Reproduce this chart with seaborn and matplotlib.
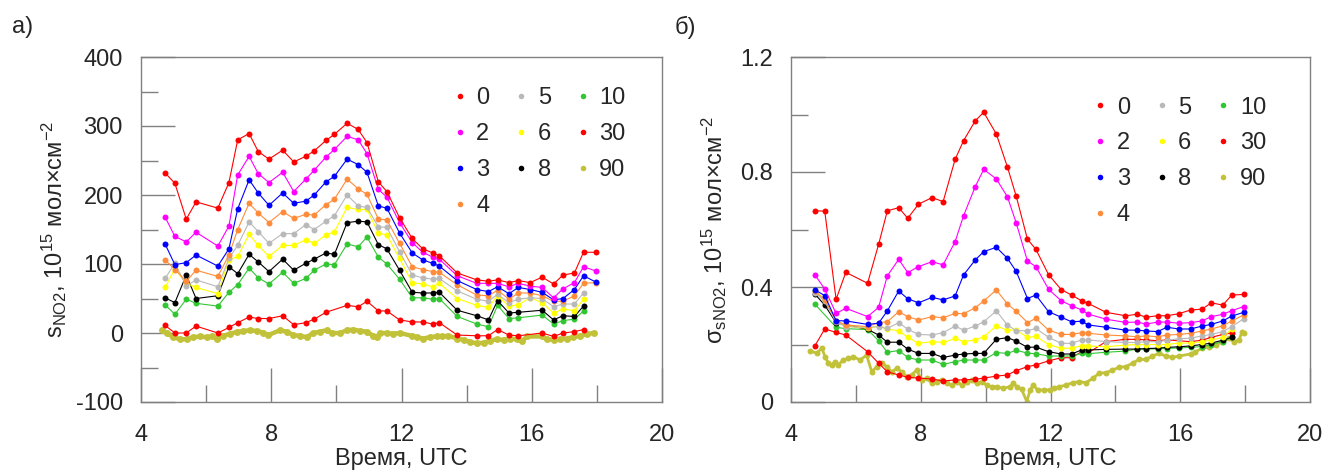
import numpy as np
import pandas as pd
import matplotlib
matplotlib.use("Agg")
import matplotlib.pyplot as plt
from matplotlib.lines import Line2D
from matplotlib.ticker import MultipleLocator
import seaborn as sns

sns.set_style("white")
plt.rcParams['font.family'] = ['Liberation Sans', 'DejaVu Sans']
plt.rcParams['mathtext.default'] = 'regular'
plt.rcParams['axes.unicode_minus'] = False

nan = np.nan

# ---------------- data ----------------
times = [4.74, 5.04, 5.39, 5.69, 6.36, 6.70, 6.97, 7.32, 7.60, 7.93, 8.35, 8.69, 9.06, 9.32,
         9.68, 9.94, 10.33, 10.67, 10.94, 11.29, 11.55, 11.94, 12.33, 12.65, 12.96, 13.16,
         13.71, 14.31, 14.67, 14.95, 15.30, 15.59, 15.95, 16.32, 16.67, 16.96, 17.31, 17.59, 17.96]

series_labels = ["0", "2", "3", "4", "5", "6", "8", "10", "30", "90"]
series_colors = ["#FF0000", "#FF00FF", "#0000FF", "#FF8C3A", "#B9B9B9", "#FFFF00",
                 "#000000", "#33C633", "#FF0000", "#C2C23A"]

# panel a) s_NO2, 1e15 mol/cm2
a_0 = [232, 217, 165, 190, 181, 218, 280, 289, 263, 252, 265, 248, 256, 264, 279, 288, 304, 295,
       276, 219, 205, 167, 137, 122, 116, 112, 87, 77, 75, 77, 73, 76, 73, 81, 71, 84, 87, 117, 117]
a_2 = [168, 140, 132, 146, 126, 155, 229, 256, 231, 218, 233, 205, 223, 236, 255, 266, 285, 280,
       260, 208, 197, 160, 131, 117, 110, 107, 83, 72, 72, 72, 67, 72, 68, 66, 51, 64, 73, 96, 90]
a_3 = [129, 99, 102, 113, 97, 122, 180, 222, 203, 185, 203, 188, 191, 200, 219, 227, 252, 244,
       233, 184, 181, 145, 116, 106, 101, 97, 76, 63, 60, 67, 57, 66, 63, 59, 48, 50, 63, 83, 74]
a_4 = [106, 92, 75, 91, 82, 113, 150, 188, 174, 160, 176, 166, 172, 171, 186, 194, 223, 209,
       201, 165, 164, 130, 96, 92, 89, 88, 70, 55, 54, 62, 49, 58, 58, 54, 46, 46, 54, 72, 73]
a_5 = [79, 101, 68, 77, 67, 108, 127, 161, 147, 130, 144, 144, 157, 150, 162, 170, 200, 184,
       182, 154, 153, 118, 84, 80, 78, 79, 61, 49, 46, 56, 44, 49, 51, 50, 38, 42, 42, 58, nan]
a_6 = [66, 93, 72, 66, 57, 106, 111, 143, 127, 111, 127, 127, 135, 130, 142, 147, 182, 179,
       179, 145, 142, 108, 73, 71, 67, 72, 50, 40, 37, 54, 39, 41, 51, 44, 29, 35, 32, 49, nan]
a_8 = [51, 44, 84, 50, 54, 96, 86, 114, 103, 89, 107, 91, 101, 107, 116, 114, 160, 162,
       161, 128, 122, 91, 59, 58, 58, 59, 33, 25, 19, 47, 29, 30, nan, 33, 19, 25, 24, 39, nan]
a_10 = [41, 27, 49, 43, 39, 59, 70, 94, 80, 71, 88, 72, 79, 91, 100, 99, 129, 125,
        139, 110, 100, 78, 51, 51, 49, 50, 24, 13, 9, 40, 21, 22, nan, 26, 13, 18, 20, 32, nan]
a_30 = [11, 0, 0, 10, 0, 8, 15, 23, 21, 21, 25, 12, 15, 20, 30, nan, 40, 38,
        46, 32, 32, 19, 16, 16, 13, 15, -3, -4, -4, 5, -3, -4, nan, 0, -5, 0, 2, 5, nan]

a_90_t = [4.64, 4.79, 4.99, 5.20, 5.40, 5.61, 5.81, 6.02, 6.17, 6.32, 6.53, 6.73, 6.94, 7.14,
          7.35, 7.55, 7.76, 7.91, 8.27, 8.47, 8.68, 8.88, 9.09, 9.29, 9.50, 9.70, 9.86, 10.11,
          10.32, 10.52, 10.73, 10.93, 11.13, 11.24, 11.34, 11.55, 11.75, 11.95, 12.31, 12.47,
          12.67, 12.87, 13.08, 13.25, 13.44, 13.70, 13.91, 14.11, 14.32, 14.52, 14.73, 14.93,
          15.14, 15.34, 15.54, 15.70, 15.85, 16.31, 16.46, 16.67, 16.87, 17.08, 17.28, 17.49,
          17.69, 17.90]
a_90 = [4, 0, -6, -9, -9, -6, -5, -6, -5, -8, -4, -1, 1.5, 3, 4, 3, 0.5, -3, 4, 2, -3, -4, -6,
        0, 2, 4, 0, 0, 4, 5, 3, 2, -4, -6, 0, 0, -1, 0, -4, -6, -8, -6, -5, -5, -4, -8, -10,
        -13, -15, -14, -11, -9, -10, -8, -9, -12, -5, -5, -9, -10, -9, -8, -6, -4, -1.5, 0]

# panel б) sigma_sNO2, 1e15 mol/cm2
b_0 = [0.665, 0.664, 0.357, 0.451, 0.413, 0.548, 0.665, 0.676, 0.639, 0.688, 0.711, 0.697, 0.844,
       0.909, 0.978, 1.008, 0.932, 0.818, 0.717, 0.566, 0.531, 0.443, 0.391, 0.372, 0.352, 0.343,
       0.312, 0.300, 0.305, 0.295, 0.300, 0.300, 0.307, 0.320, 0.323, 0.345, 0.337, 0.372, 0.374]
b_2 = [0.442, 0.393, 0.308, 0.326, 0.297, 0.329, 0.439, 0.496, 0.450, 0.471, 0.488, 0.477, 0.558,
       0.648, 0.749, 0.809, 0.776, 0.714, 0.624, 0.490, 0.471, 0.392, 0.352, 0.335, 0.320, 0.306,
       0.288, 0.277, 0.278, 0.271, 0.278, 0.278, 0.274, 0.276, 0.282, 0.297, 0.305, 0.318, 0.332]
b_3 = [0.390, 0.370, 0.283, 0.282, 0.270, 0.274, 0.317, 0.386, 0.359, 0.345, 0.364, 0.355, 0.369,
       0.442, 0.494, 0.523, 0.538, 0.500, 0.455, 0.360, 0.372, 0.314, 0.295, 0.279, 0.281, 0.268,
       0.260, 0.250, 0.250, 0.247, 0.245, 0.260, 0.254, 0.254, 0.264, 0.270, 0.282, 0.299, 0.312]
b_4 = [0.385, 0.355, 0.283, 0.268, 0.262, 0.276, 0.279, 0.314, 0.297, 0.285, 0.297, 0.293, 0.308,
       0.307, 0.328, 0.351, 0.390, 0.341, 0.316, 0.276, 0.291, 0.250, 0.235, 0.235, 0.241, 0.239,
       0.233, 0.230, 0.227, 0.230, 0.227, 0.233, 0.235, 0.239, 0.247, 0.254, 0.265, 0.282, 0.303]
b_5 = [0.380, 0.350, 0.278, 0.262, 0.260, 0.262, 0.256, 0.276, 0.253, 0.235, 0.233, 0.241, 0.264,
       0.250, 0.264, 0.279, 0.317, 0.268, 0.248, 0.248, 0.256, 0.225, 0.204, 0.204, 0.216, 0.216,
       0.210, 0.207, 0.207, 0.210, 0.210, 0.215, 0.220, 0.222, 0.230, 0.235, 0.245, 0.262, 0.290]
b_6 = [0.386, 0.358, 0.283, 0.264, 0.256, 0.264, 0.253, 0.248, 0.225, 0.204, 0.210, 0.207, 0.221,
       0.210, 0.216, 0.227, 0.264, 0.250, 0.250, 0.225, 0.228, 0.200, 0.187, 0.187, 0.196, 0.195,
       0.192, 0.198, 0.200, 0.200, 0.200, 0.200, 0.205, 0.205, 0.210, 0.215, 0.225, 0.254, nan]
b_8 = [0.375, 0.337, 0.276, 0.268, 0.253, 0.233, 0.208, 0.208, 0.184, 0.169, 0.169, 0.155, 0.163,
       0.167, 0.169, 0.169, 0.218, 0.224, 0.212, 0.190, 0.191, 0.175, 0.167, 0.167, 0.181, 0.181,
       0.183, 0.184, 0.184, 0.186, 0.187, 0.190, 0.192, 0.195, 0.200, 0.205, 0.215, 0.225, nan]
b_10 = [0.340, nan, 0.260, 0.255, 0.252, 0.213, 0.173, 0.179, 0.155, 0.146, 0.146, 0.131, 0.140,
        0.146, 0.146, 0.146, 0.172, 0.169, 0.180, 0.170, 0.168, 0.160, 0.160, 0.160, 0.169, 0.168,
        0.173, 0.177, 0.184, 0.184, 0.185, 0.186, 0.188, 0.190, 0.193, 0.200, 0.210, 0.225, nan]
b_30 = [0.196, 0.254, 0.242, 0.233, 0.175, 0.135, 0.105, 0.094, 0.086, 0.083, 0.080, 0.073, 0.077,
        0.077, 0.079, 0.083, 0.090, 0.094, 0.109, 0.123, 0.129, 0.143, 0.154, 0.154, 0.175, 0.171,
        0.210, 0.218, 0.218, 0.216, 0.213, 0.216, nan, 0.210, 0.215, 0.225, 0.235, 0.240, nan]

b_90_t = [4.59, 4.79, 4.95, 5.05, 5.15, 5.25, 5.36, 5.46, 5.61, 5.77, 5.92, 6.13, 6.33, 6.49,
          6.64, 6.80, 6.95, 7.10, 7.26, 7.41, 7.57, 7.72, 7.87, 8.03, 8.18, 8.34, 8.49, 8.65,
          8.80, 8.95, 9.11, 9.26, 9.42, 9.57, 9.72, 9.88, 10.03, 10.19, 10.34, 10.54, 10.75,
          10.85, 10.96, 11.11, 11.27, 11.37, 11.47, 11.60, 11.81, 11.97, 12.12, 12.27, 12.48,
          12.68, 12.89, 13.09, 13.30, 13.50, 13.71, 13.91, 14.12, 14.32, 14.53, 14.73, 14.94,
          15.14, 15.35, 15.55, 15.76, 15.96, 16.32, 16.47, 16.68, 16.88, 17.09, 17.29, 17.50,
          17.65, 17.81, 17.91, 17.96]
b_90 = [0.178, 0.170, 0.187, 0.158, 0.135, 0.129, 0.140, 0.129, 0.146, 0.152, 0.158, 0.146, 0.163,
        0.105, 0.123, 0.135, 0.123, 0.105, 0.117, 0.105, 0.088, 0.094, 0.111, 0.077, 0.082, 0.065,
        0.071, 0.077, 0.065, 0.059, 0.071, 0.059, 0.071, 0.077, 0.065, 0.071, 0.059, 0.053, 0.053,
        0.048, 0.053, 0.065, 0.053, 0.044, 0.001, 0.042, 0.059, 0.042, 0.042, 0.042, 0.048, 0.053,
        0.059, 0.067, 0.071, 0.067, 0.082, 0.100, 0.102, 0.111, 0.121, 0.123, 0.135, 0.148, 0.148,
        0.160, 0.169, 0.160, 0.155, 0.160, 0.167, 0.175, 0.187, 0.192, 0.198, 0.210, 0.221, 0.210,
        0.215, 0.245, 0.240]

panel_a = [a_0, a_2, a_3, a_4, a_5, a_6, a_8, a_10, a_30]
panel_b = [b_0, b_2, b_3, b_4, b_5, b_6, b_8, b_10, b_30]

palette = dict(zip(series_labels, series_colors))


def long_frame(series_list, t90, v90):
    rows = []
    for lab, vals in zip(series_labels[:-1], series_list):
        for t, v in zip(times, vals):
            rows.append((lab, t, v))
    for t, v in zip(t90, v90):
        rows.append(("90", t, v))
    df = pd.DataFrame(rows, columns=["series", "t", "v"])
    return df.dropna()


df_a = long_frame(panel_a, a_90_t, a_90)
df_b = long_frame(panel_b, b_90_t, b_90)

# ---------------- figure ----------------
fig = plt.figure(figsize=(13.26, 4.71), dpi=100)
ax_a = fig.add_axes([141 / 1326, 69 / 471, 521 / 1326, 345 / 471])
ax_b = fig.add_axes([791 / 1326, 69 / 471, 519 / 1326, 345 / 471])

FS = 17
spine_col = "#808080"


def draw(ax, df, lw90, ms90):
    d90 = df[df.series == "90"]
    sns.lineplot(data=d90, x="t", y="v", color=palette["90"], linewidth=lw90,
                 marker="o", markersize=ms90, markeredgewidth=0, sort=False,
                 estimator=None, ax=ax, legend=False)
    rest = df[df.series != "90"]
    order = ["30", "10", "8", "6", "5", "4", "3", "2", "0"]
    for lab in order:
        sub = rest[rest.series == lab]
        sns.lineplot(data=sub, x="t", y="v", color=palette[lab], linewidth=0.8,
                     marker="o", markersize=4.3, markeredgewidth=0, sort=False,
                     estimator=None, ax=ax, legend=False)
    for s in ax.spines.values():
        s.set_color(spine_col)
        s.set_linewidth(1.0)
    ax.set_xlim(4, 20)
    ax.xaxis.set_major_locator(MultipleLocator(4))
    ax.xaxis.set_minor_locator(MultipleLocator(2))
    ax.tick_params(which="major", direction="in", length=24.5, width=1.0, color=spine_col,
                   labelsize=FS, top=False, right=False, bottom=True, left=True)
    ax.tick_params(which="minor", direction="in", length=12.5, width=1.0, color=spine_col,
                   top=False, right=False, bottom=True, left=True)
    ax.tick_params(axis="x", which="major", pad=16)
    ax.tick_params(axis="y", which="major", pad=13)
    ax.set_xlabel("Время, UTC", fontsize=FS, labelpad=1)
    handles = [Line2D([], [], ls="none", marker="o", markersize=4, markeredgewidth=0,
                      color=c) for c in series_colors]
    return handles


h = draw(ax_a, df_a, 3.2, 5.0)
ax_a.set_ylim(-100, 400)
ax_a.yaxis.set_major_locator(MultipleLocator(100))
ax_a.yaxis.set_minor_locator(MultipleLocator(50))
ax_a.set_ylabel("s$_{NO2}$, 10$^{15}$ мол×см$^{-2}$", fontsize=FS, labelpad=5)
ax_a.legend(h, series_labels, ncol=3, frameon=False, fontsize=FS, loc="upper left",
            bbox_to_anchor=(0.598, 0.912), borderpad=0, borderaxespad=0, handlelength=0.6,
            handletextpad=0.4, columnspacing=1.05, labelspacing=0.585)

h = draw(ax_b, df_b, 2.0, 4.3)
ax_b.set_ylim(0, 1.2)
ax_b.yaxis.set_major_locator(MultipleLocator(0.4))
ax_b.yaxis.set_minor_locator(MultipleLocator(0.2))
ax_b.yaxis.set_major_formatter(matplotlib.ticker.FuncFormatter(lambda v, p: "0" if abs(v) < 1e-9 else f"{v:.1f}"))
ax_b.set_ylabel("σ$_{sNO2}$, 10$^{15}$ мол×см$^{-2}$", fontsize=FS, labelpad=8)
ax_b.legend(h, series_labels, ncol=3, frameon=False, fontsize=FS, loc="upper left",
            bbox_to_anchor=(0.582, 0.885), borderpad=0, borderaxespad=0, handlelength=0.6,
            handletextpad=0.4, columnspacing=1.05, labelspacing=0.585)

fig.text(12 / 1326, 1 - 27 / 471, "а)", fontsize=FS, va="center", ha="left")
fig.text(675 / 1326, 1 - 27 / 471, "б)", fontsize=FS, va="center", ha="left")

fig.savefig("out.png", dpi=100)
